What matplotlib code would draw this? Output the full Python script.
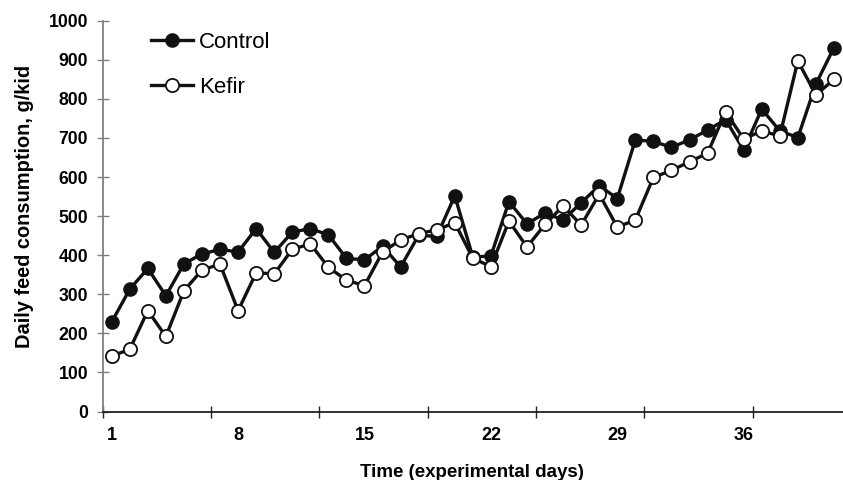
import numpy as np
import matplotlib.pyplot as plt

##### 字体
plt.rcParams['font.family'] = ['Liberation Sans', 'DejaVu Sans']

##### 数据
days = list(range(1, 42))
control = [229, 313, 366, 296, 378, 403, 415, 408, 468, 407,
           459, 468, 452, 392, 388, 423, 370, 451, 448, 552,
           395, 398, 537, 480, 508, 490, 534, 578, 545, 695,
           691, 676, 695, 720, 747, 669, 774, 718, 701, 838, 931]
kefir = [142, 159, 258, 192, 309, 362, 377, 258, 355, 352,
         415, 429, 369, 336, 322, 408, 439, 455, 465, 483,
         392, 371, 487, 421, 479, 526, 477, 556, 472, 490,
         599, 617, 639, 661, 767, 697, 718, 705, 897, 810, 850]
day_labels = [1, 8, 15, 22, 29, 36]
y_ticks = list(range(0, 1001, 100))

##### 画图
fig = plt.figure(figsize=(8.43, 4.8), dpi=100)
ax = fig.add_axes([0.1218, 0.1427, 0.8782, 0.8142])

ax.plot(days, control, color='#111111', lw=2.4, marker='o', ms=9.5,
        mfc='#111111', mec='#111111', mew=1.0, label='Control')
ax.plot(days, kefir, color='#111111', lw=2.4, marker='o', ms=9.5,
        mfc='white', mec='#111111', mew=1.3, label='Kefir')

ax.set_xlim(0.5, 41.5)
ax.set_ylim(0, 1000)
ax.set_yticks(y_ticks)
# tick marks sit between categories, labels every 7 days
ax.set_xticks(np.arange(0.5, 41, 6))
ax.set_xticklabels([])
ax.set_xticks(day_labels, minor=True)
ax.set_xticklabels(day_labels, minor=True)
ax.tick_params(axis='x', which='minor', length=0, pad=11, labelsize=13)
ax.tick_params(axis='x', which='major', direction='inout', length=8, width=1, color='#222222')
ax.tick_params(axis='y', direction='inout', length=8, width=1, color='#808080', pad=6.4, labelsize=12.7)
for lab in ax.get_xticklabels(minor=True) + ax.get_yticklabels():
    lab.set_fontweight('bold')

for s in ['top', 'right']:
    ax.spines[s].set_visible(False)
ax.spines['left'].set_color('#808080')
ax.spines['left'].set_linewidth(1.3)
ax.spines['bottom'].set_color('#111111')
ax.spines['bottom'].set_linewidth(1.2)

ax.legend(loc='upper left', bbox_to_anchor=(0.065, 0.972), frameon=False, fontsize=16,
          handlelength=1.9, handletextpad=0.27, labelspacing=1.08, borderpad=0, borderaxespad=0)

fig.text(25 / 843, 1 - 206.5 / 480, 'Daily feed consumption, g/kid', rotation=90,
         ha='center', va='center', fontsize=14.4, fontweight='bold')
fig.text(472 / 843, 1 - 477 / 480, 'Time (experimental days)', ha='center', va='baseline',
         fontsize=13.5, fontweight='bold')

fig.savefig('out.png', dpi=100)
